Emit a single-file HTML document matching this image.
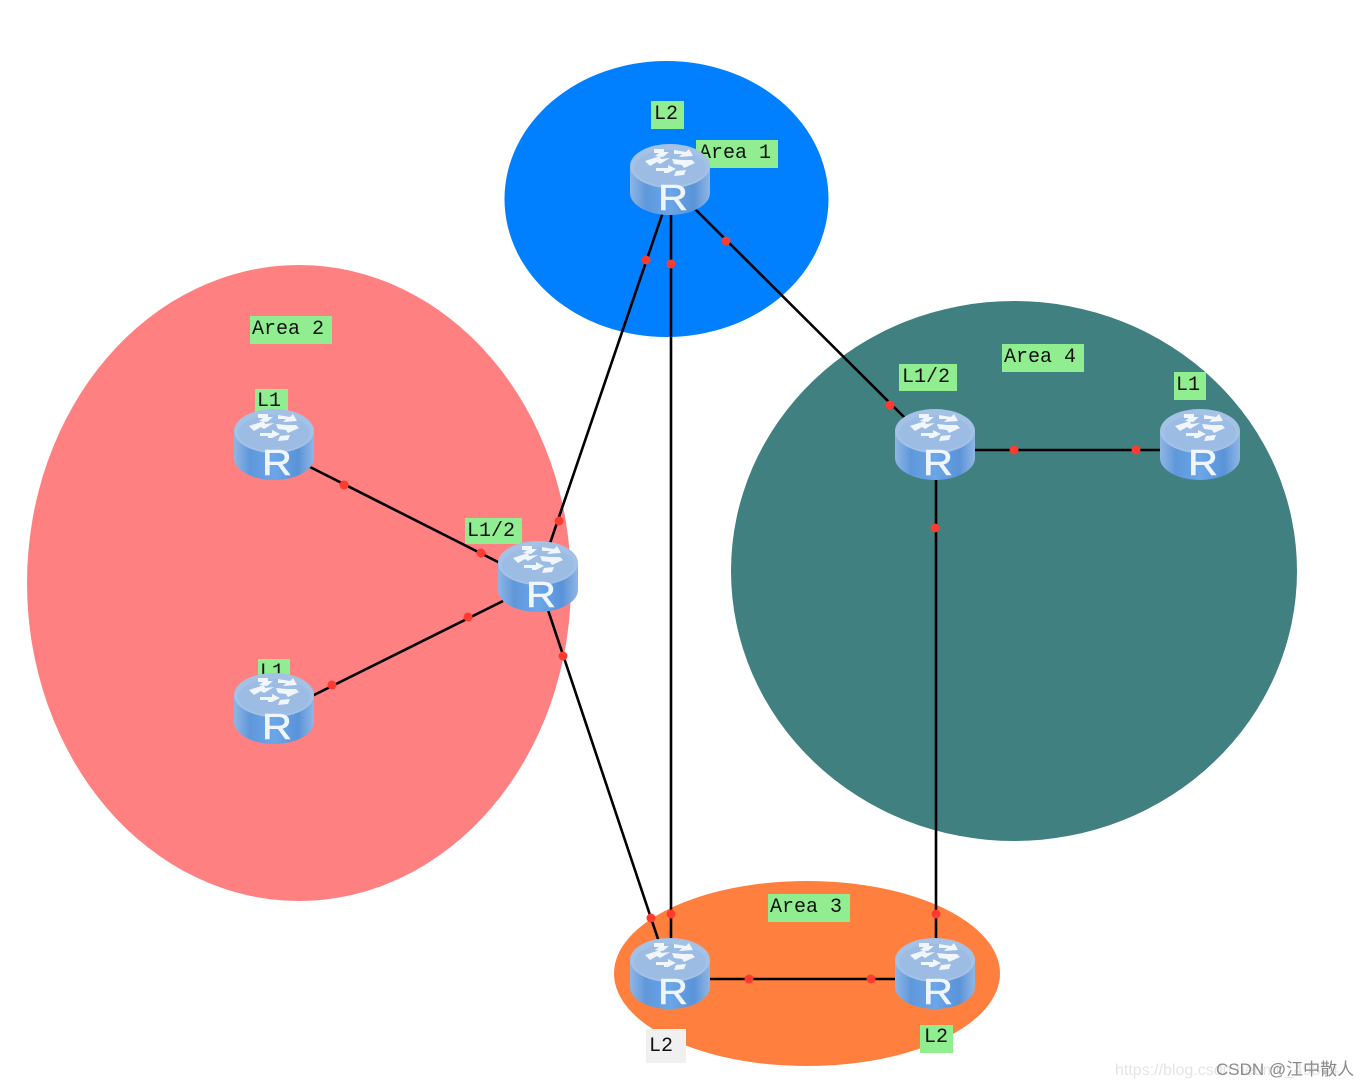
<!DOCTYPE html>
<html>
<head>
<meta charset="utf-8">
<style>
html,body{margin:0;padding:0;background:#fff;}
svg{display:block;}
.t{font-family:"Liberation Mono","DejaVu Sans Mono",monospace;font-size:20px;fill:#111;}
.r{font-family:"Liberation Sans",sans-serif;font-size:36px;fill:#eef5fc;stroke:#eef5fc;stroke-width:.6;}
</style>
</head>
<body>
<svg width="1368" height="1087" viewBox="0 0 1368 1087" xmlns="http://www.w3.org/2000/svg">
<defs>
<linearGradient id="b" x1="0" x2="1" y1="0" y2="0">
<stop offset="0" stop-color="#8fb6e4"/><stop offset=".2" stop-color="#5f97db"/><stop offset=".5" stop-color="#6ba6e8"/><stop offset=".8" stop-color="#5a93d8"/><stop offset="1" stop-color="#8fb6e4"/>
</linearGradient>
<g id="rt">
<path d="M0 22V49C0 61 18 71 40 71S80 61 80 49V22Z" fill="url(#b)"/>
<ellipse cx="40" cy="22" rx="40" ry="22" fill="#a4c1e6"/>
<ellipse cx="40" cy="24" rx="36" ry="18" fill="#9dbce3"/>
<g fill="#f1f6fc">
<path d="M24 5H34V8H39L33 13L25 12L29 9H24Z"/>
<path d="M44 6L56 8L59 5L63 12L49 13L52 10L44 10Z"/>
<path d="M15 17L30 12L31 15L40 14L30 20L27 18L20 22Z"/>
<path d="M42 15L52 16L62 16L65 19L54 24L52 21L44 20Z"/>
<path d="M26 24H38V21L46 25L38 29H34V27H26Z"/>
<path d="M46 27L56 26L54 31L44 32Z"/>
</g>
<text class="r" transform="translate(28 66) scale(1.15 1)">R</text>
</g>
</defs>
<rect width="1368" height="1087" fill="#fff"/>
<ellipse cx="666.500" cy="199" rx="162" ry="138" fill="#0080ff"/>
<ellipse cx="299" cy="583" rx="272" ry="318" fill="#ff8080"/>
<ellipse cx="1014" cy="571" rx="283" ry="270" fill="#408080"/>
<ellipse cx="807" cy="973.500" rx="193" ry="92.500" fill="#ff803e"/>

<g fill="#90ee90">
<rect x="651" y="101" width="33" height="28"/>
<rect x="696" y="140" width="82" height="28"/>
<rect x="250" y="316" width="82" height="28"/>
<rect x="255" y="389" width="33" height="28"/>
<rect x="465" y="518" width="57" height="26"/>
<rect x="258" y="659" width="32" height="24"/>
<rect x="899" y="364" width="58" height="27"/>
<rect x="1002" y="344" width="82" height="28"/>
<rect x="1174" y="372" width="32" height="28"/>
<rect x="768" y="894" width="82" height="28"/>
<rect x="920" y="1025" width="33" height="28"/>
</g>
<rect x="646" y="1029" width="40" height="34" fill="#f0f0f0"/>
<g class="t">
<text x="654" y="119">L2</text>
<text x="699" y="158">Area 1</text>
<text x="252" y="334">Area 2</text>
<text x="257" y="406">L1</text>
<text x="467" y="536">L1/2</text>
<text x="260" y="677">L1</text>
<text x="902" y="382">L1/2</text>
<text x="1004" y="362">Area 4</text>
<text x="1176" y="390">L1</text>
<text x="770" y="912">Area 3</text>
<text x="924" y="1042">L2</text>
<text x="649" y="1051">L2</text>
</g>

<g stroke="#000" stroke-width="2.600" fill="none">
<line x1="663" y1="212" x2="545" y2="558"/>
<line x1="671" y1="212" x2="671" y2="940"/>
<line x1="695" y1="209" x2="905" y2="418"/>
<line x1="310" y1="467" x2="500" y2="563"/>
<line x1="312" y1="696" x2="503" y2="601"/>
<line x1="548" y1="610" x2="659" y2="942"/>
<line x1="972" y1="450" x2="1162" y2="450"/>
<line x1="936" y1="478" x2="936" y2="940"/>
<line x1="708" y1="979" x2="897" y2="979"/>
</g>

<use href="#rt" x="630" y="144"/>
<use href="#rt" x="234" y="409"/>
<use href="#rt" x="498" y="541"/>
<use href="#rt" x="234" y="673"/>
<use href="#rt" x="895" y="409"/>
<use href="#rt" x="1160" y="409"/>
<use href="#rt" x="630" y="938"/>
<use href="#rt" x="895" y="938"/>

<g fill="#ff3b30">
<circle cx="646" cy="260" r="4.500"/>
<circle cx="671" cy="264" r="4.500"/>
<circle cx="726" cy="241" r="4.500"/>
<circle cx="559" cy="521" r="4.500"/>
<circle cx="344" cy="485" r="4.500"/>
<circle cx="481" cy="553" r="4.500"/>
<circle cx="468" cy="617" r="4.500"/>
<circle cx="332" cy="685" r="4.500"/>
<circle cx="563" cy="656" r="4.500"/>
<circle cx="651" cy="918" r="4.500"/>
<circle cx="671" cy="914" r="4.500"/>
<circle cx="890" cy="405" r="4.500"/>
<circle cx="1014" cy="450" r="4.500"/>
<circle cx="1136" cy="450" r="4.500"/>
<circle cx="935" cy="528" r="4.500"/>
<circle cx="936" cy="914" r="4.500"/>
<circle cx="749" cy="979" r="4.500"/>
<circle cx="871" cy="979" r="4.500"/>
</g>

<text x="1115" y="1075" font-family="'Liberation Sans',sans-serif" font-size="16" fill="#e4e4e4">https://blog.csdn.net/m0_49864</text>
<text x="1216" y="1075" font-family="'Liberation Sans','Noto Sans CJK SC',sans-serif" font-size="17" fill="#8a8a8a">CSDN @江中散人</text>
</svg>
</body>
</html>
